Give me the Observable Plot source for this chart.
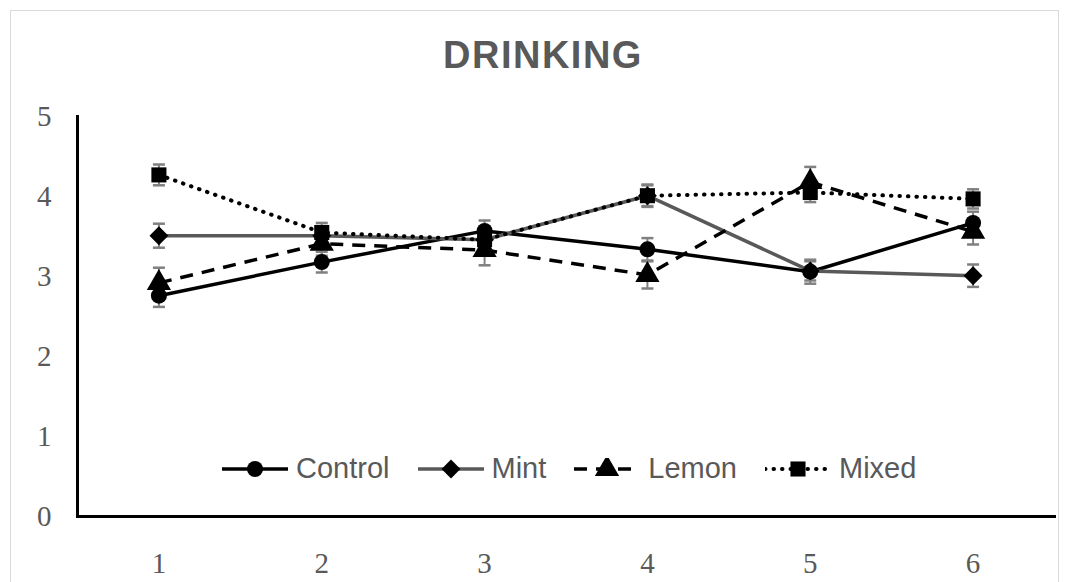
<!DOCTYPE html>
<html>
<head>
<meta charset="utf-8">
<script src="https://cdn.jsdelivr.net/npm/d3@7"></script>
<script src="https://cdn.jsdelivr.net/npm/@observablehq/plot@0.6"></script>
<style>
  html, body { margin: 0; padding: 0; background: #fff; overflow: hidden; }
  #wrap { position: relative; width: 1069px; height: 582px; overflow: hidden; }
  #border { position: absolute; left: 10px; top: 10px; width: 1047px; height: 620px; border: 1px solid #d9d9d9; }
  #title { position: absolute; left: 0; width: 1086px; top: 33px; text-align: center;
           font-family: "Liberation Sans", Arial, sans-serif; font-weight: bold; font-size: 38px;
           letter-spacing: 1.5px; color: #595959; line-height: 44px; }
  #chart { position: absolute; left: 0; top: 0; }
  #legend { position: absolute; left: 222px; top: 452px; display: flex; align-items: center; gap: 28px;
            font-family: "Liberation Sans", Arial, sans-serif; font-size: 29px; color: #595959; }
  .item { display: flex; align-items: center; gap: 8px; }
</style>
</head>
<body>
<div id="wrap">
  <div id="border"></div>
  <div id="chart"></div>
  <div id="title">DRINKING</div>
  <div id="legend"></div>
</div>
<script>
// ---- data ----
const days = [1, 2, 3, 4, 5, 6];
const seriesNames = ["Control", "Mint", "Lemon", "Mixed"];
const control    = [2.76, 3.18, 3.57, 3.34, 3.06, 3.67];
const controlErr = [0.14, 0.13, 0.13, 0.14, 0.15, 0.14];
const mint       = [3.51, 3.51, 3.46, 4.01, 3.07, 3.01];
const mintErr    = [0.15, 0.12, 0.12, 0.13, 0.12, 0.14];
const lemon      = [2.92, 3.41, 3.33, 3.02, 4.18, 3.56];
const lemonErr   = [0.19, 0.15, 0.19, 0.17, 0.19, 0.16];
const mixed      = [4.27, 3.55, 3.46, 4.01, 4.05, 3.97];
const mixedErr   = [0.13, 0.12, 0.13, 0.14, 0.12, 0.12];
const yTicks = [0, 1, 2, 3, 4, 5];

// ---- styles ----
const styles = {
  Control: {values: control, err: controlErr, stroke: "#000000", dash: null, symbol: "circle", cap: "butt", r: 8},
  Mint:    {values: mint, err: mintErr, stroke: "#595959", dash: null, symbol: "diamond2", cap: "butt", r: 8.5},
  Lemon:   {values: lemon, err: lemonErr, stroke: "#000000", dash: "13,9", symbol: "triangle", cap: "butt", r: 9},
  Mixed:   {values: mixed, err: mixedErr, stroke: "#000000", dash: "0.5,8", symbol: "square", cap: "round", r: 8.5}
};

const capSymbol = {
  draw(context, size) {
    const w = Math.sqrt(size / Math.PI);
    context.moveTo(-w, 0);
    context.lineTo(w, 0);
  }
};

const marks = [];
for (const name of seriesNames) {
  const s = styles[name];
  const rows = days.map((d, i) => ({day: d, v: s.values[i], e: s.err[i]}));
  marks.push(
    Plot.ruleX(rows, {x: "day", y1: d => d.v - d.e, y2: d => d.v + d.e, stroke: "#808080", strokeWidth: 2}),
    Plot.dot(rows, {x: "day", y: d => d.v + d.e, symbol: capSymbol, r: 6, stroke: "#808080", strokeWidth: 2.5, fill: "none"}),
    Plot.dot(rows, {x: "day", y: d => d.v - d.e, symbol: capSymbol, r: 6, stroke: "#808080", strokeWidth: 2.5, fill: "none"})
  );
}
for (const name of seriesNames) {
  const s = styles[name];
  const rows = days.map((d, i) => ({day: d, v: s.values[i]}));
  marks.push(
    Plot.line(rows, {x: "day", y: "v", stroke: s.stroke, strokeWidth: name === "Mixed" ? 4 : 3.5,
      strokeDasharray: s.dash, strokeLinecap: s.cap, strokeLinejoin: "round"}),
    Plot.dot(rows, {x: "day", y: "v", symbol: s.symbol, r: s.r, fill: "#000000", stroke: "none"})
  );
}

const chart = Plot.plot({
  width: 1069,
  height: 582,
  marginLeft: 77,
  marginRight: 15,
  marginTop: 116,
  marginBottom: 66,
  style: {background: "transparent", overflow: "visible"},
  x: {type: "linear", domain: [0.5, 6.5]},
  y: {domain: [0, 5]},
  marks: [
    Plot.axisY({ticks: yTicks, tickFormat: d => String(d), tickSize: 0, tickPadding: 26, label: null, fill: "#595959",
      fontSize: 29, fontFamily: "'Liberation Serif', 'Times New Roman', serif"}),
    Plot.axisX({ticks: days, tickFormat: d => String(d), tickSize: 0, tickPadding: 36, label: null, fill: "#595959",
      fontSize: 29, fontFamily: "'Liberation Serif', 'Times New Roman', serif"}),
    ...marks,
    Plot.frame({anchor: "left", stroke: "#000", strokeWidth: 3}),
    Plot.frame({anchor: "bottom", stroke: "#000", strokeWidth: 3})
  ]
});
document.getElementById("chart").appendChild(chart);

// ---- legend ----
const legend = d3.select("#legend");
const symbolTypes = {circle: d3.symbolCircle, diamond2: d3.symbolDiamond2, triangle: d3.symbolTriangle, square: d3.symbolSquare};
for (const name of seriesNames) {
  const s = styles[name];
  const item = legend.append("div").attr("class", "item");
  const svg = item.append("svg").attr("width", 66).attr("height", 22);
  svg.append("line").attr("x1", 0).attr("x2", 66).attr("y1", 11).attr("y2", 11)
    .attr("stroke", s.stroke).attr("stroke-width", name === "Mixed" ? 4 : 3.5)
    .attr("stroke-dasharray", s.dash).attr("stroke-linecap", s.cap);
  svg.append("path").attr("transform", "translate(33,11)")
    .attr("d", d3.symbol(symbolTypes[s.symbol], s.r * s.r * Math.PI)())
    .attr("fill", "#000");
  item.append("span").text(name);
}
</script>
</body>
</html>
